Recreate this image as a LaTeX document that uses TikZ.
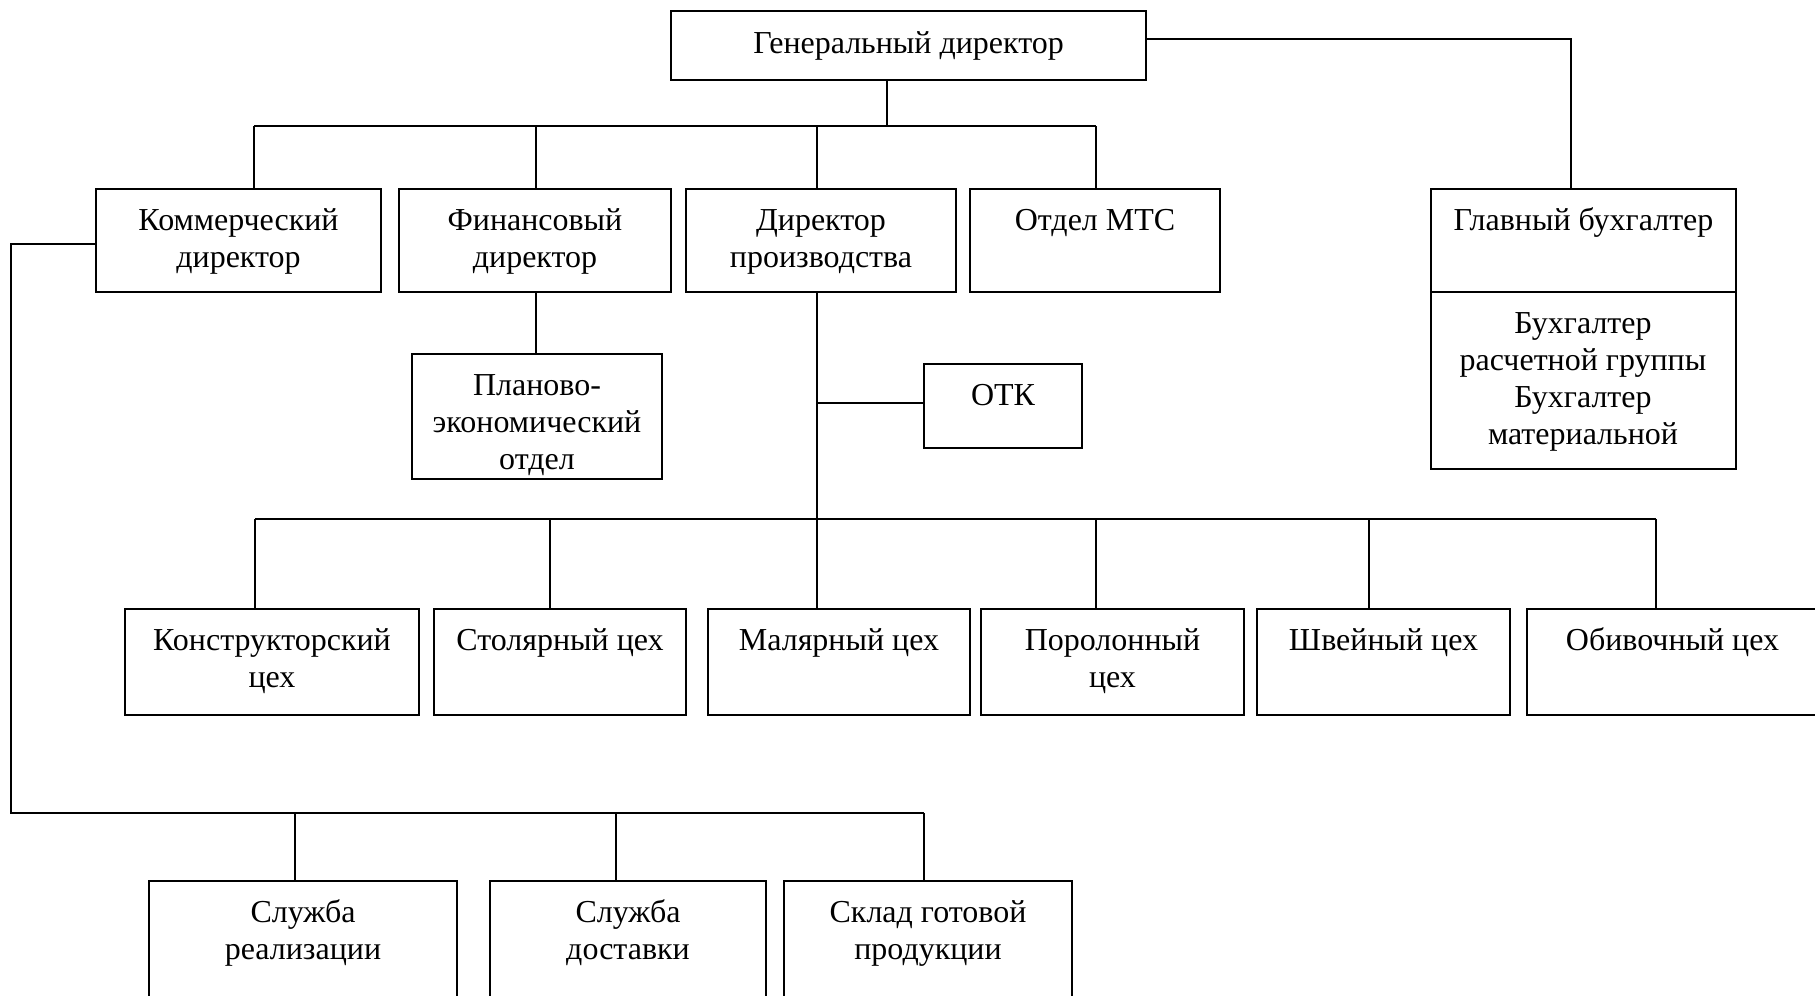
\documentclass[tikz,border=0pt]{standalone}
\usepackage{fontspec}
\setmainfont{Liberation Serif}
\newcommand\obox[5]{\node[box, anchor=north west, minimum width={(#4-#2)*0.1mm}, minimum height={(#5-#3)*0.1mm}] (#1) at (#2,#3) {};}
% name, reference point, number of lines, text
\newcommand\otext[4]{\node[txt] (#1) at ([yshift={-4.1mm-(#3-1)*10.6pt}]#2) {#4};}
\begin{document}
\begin{tikzpicture}[x=0.1mm,y=-0.1mm,
  box/.style={draw, line width=0.27mm, rectangle, inner sep=0pt, outer sep=0pt},
  conn/.style={line width=0.16mm},
  txt/.style={font=\fontsize{9.1}{10.6}\selectfont, align=center, anchor=base, inner sep=0pt}]
\useasboundingbox (0,0) rectangle (1815,995);
\clip (0,0) rectangle (1815,995);
% boxes
\obox{gen}{671}{11}{1146}{80}
\obox{komm}{96}{189}{381}{292}
\obox{fin}{399}{189}{671}{292}
\obox{dir}{686}{189}{956}{292}
\obox{mts}{970}{189}{1220}{292}
\obox{gb}{1431}{189}{1736}{469}
\obox{plan}{412}{354}{662}{479}
\obox{otk}{924}{364}{1082}{448}
\obox{konstr}{125}{609}{419}{715}
\obox{stol}{434}{609}{686}{715}
\obox{mal}{708}{609}{970}{715}
\obox{por}{981}{609}{1244}{715}
\obox{shv}{1257}{609}{1510}{715}
\obox{obiv}{1527}{609}{1818}{715}
\obox{real}{149}{881}{457}{1010}
\obox{dost}{490}{881}{766}{1010}
\obox{sklad}{784}{881}{1072}{1010}
% texts
\node[txt] (genT) at ([yshift=-4.3mm]gen.north) {Генеральный директор};
\otext{kommT}{komm.north}{2}{Коммерческий\\директор}
\otext{finT}{fin.north}{2}{Финансовый\\директор}
\otext{dirT}{dir.north}{2}{Директор\\производства}
\otext{mtsT}{mts.north}{1}{Отдел МТС}
\otext{gbT}{gb.north}{1}{Главный бухгалтер}
\otext{planT}{plan.north}{3}{Планово-\\экономический\\отдел}
\otext{otkT}{otk.north}{1}{ОТК}
\otext{konstrT}{konstr.north}{2}{Конструкторский\\цех}
\otext{stolT}{stol.north}{1}{Столярный цех}
\otext{malT}{mal.north}{1}{Малярный цех}
\otext{porT}{por.north}{2}{Поролонный\\цех}
\otext{shvT}{shv.north}{1}{Швейный цех}
\otext{obivT}{obiv.north}{1}{Обивочный цех}
\otext{realT}{real.north}{2}{Служба\\реализации}
\otext{dostT}{dost.north}{2}{Служба\\доставки}
\otext{skladT}{sklad.north}{2}{Склад готовой\\продукции}
% accountant divider and lower text
\coordinate (gbdiv) at (1583,292);
\draw[line width=0.27mm] (gb.west |- gbdiv) -- (gb.east |- gbdiv);
\otext{gbsub}{gbdiv}{4}{Бухгалтер\\расчетной группы\\Бухгалтер\\материальной}
% connectors: level 1
\coordinate (b1) at (887,126);
\coordinate (b1L) at (254,126);
\coordinate (b1F) at (536,126);
\coordinate (b1D) at (817,126);
\coordinate (b1R) at (1096,126);
\draw[conn] (b1 |- gen.south) -- (b1);
\draw[conn] (b1L) -- (b1R);
\draw[conn] (b1L) -- (b1L |- komm.north);
\draw[conn] (b1F) -- (b1F |- fin.north);
\draw[conn] (b1D) -- (b1D |- dir.north);
\draw[conn] (b1R) -- (b1R |- mts.north);
% general director to chief accountant
\coordinate (gk) at (1571,39);
\draw[conn] (gen.east |- gk) -- (gk) -- (gk |- gb.north);
% finance to planning
\draw[conn] (b1F |- fin.south) -- (b1F |- plan.north);
% production director trunk
\coordinate (b2) at (817,519);
\coordinate (otkJ) at (817,403);
\draw[conn] (b1D |- dir.south) -- (b2);
\draw[conn] (otkJ) -- (otk.west |- otkJ);
% workshops bus
\coordinate (b2L) at (255,519);
\coordinate (b2S) at (550,519);
\coordinate (b2P) at (1096,519);
\coordinate (b2W) at (1369,519);
\coordinate (b2R) at (1656,519);
\draw[conn] (b2L) -- (b2R);
\draw[conn] (b2L) -- (b2L |- konstr.north);
\draw[conn] (b2S) -- (b2S |- stol.north);
\draw[conn] (b2) -- (b2 |- mal.north);
\draw[conn] (b2P) -- (b2P |- por.north);
\draw[conn] (b2W) -- (b2W |- shv.north);
\draw[conn] (b2R) -- (b2R |- obiv.north);
% commercial branch
\coordinate (lc) at (11,244);
\coordinate (b3L) at (11,813);
\coordinate (b3A) at (295,813);
\coordinate (b3B) at (616,813);
\coordinate (b3R) at (924,813);
\draw[conn] (komm.west |- lc) -- (lc) -- (b3L) -- (b3R);
\draw[conn] (b3A) -- (b3A |- real.north);
\draw[conn] (b3B) -- (b3B |- dost.north);
\draw[conn] (b3R) -- (b3R |- sklad.north);
\end{tikzpicture}
\end{document}
